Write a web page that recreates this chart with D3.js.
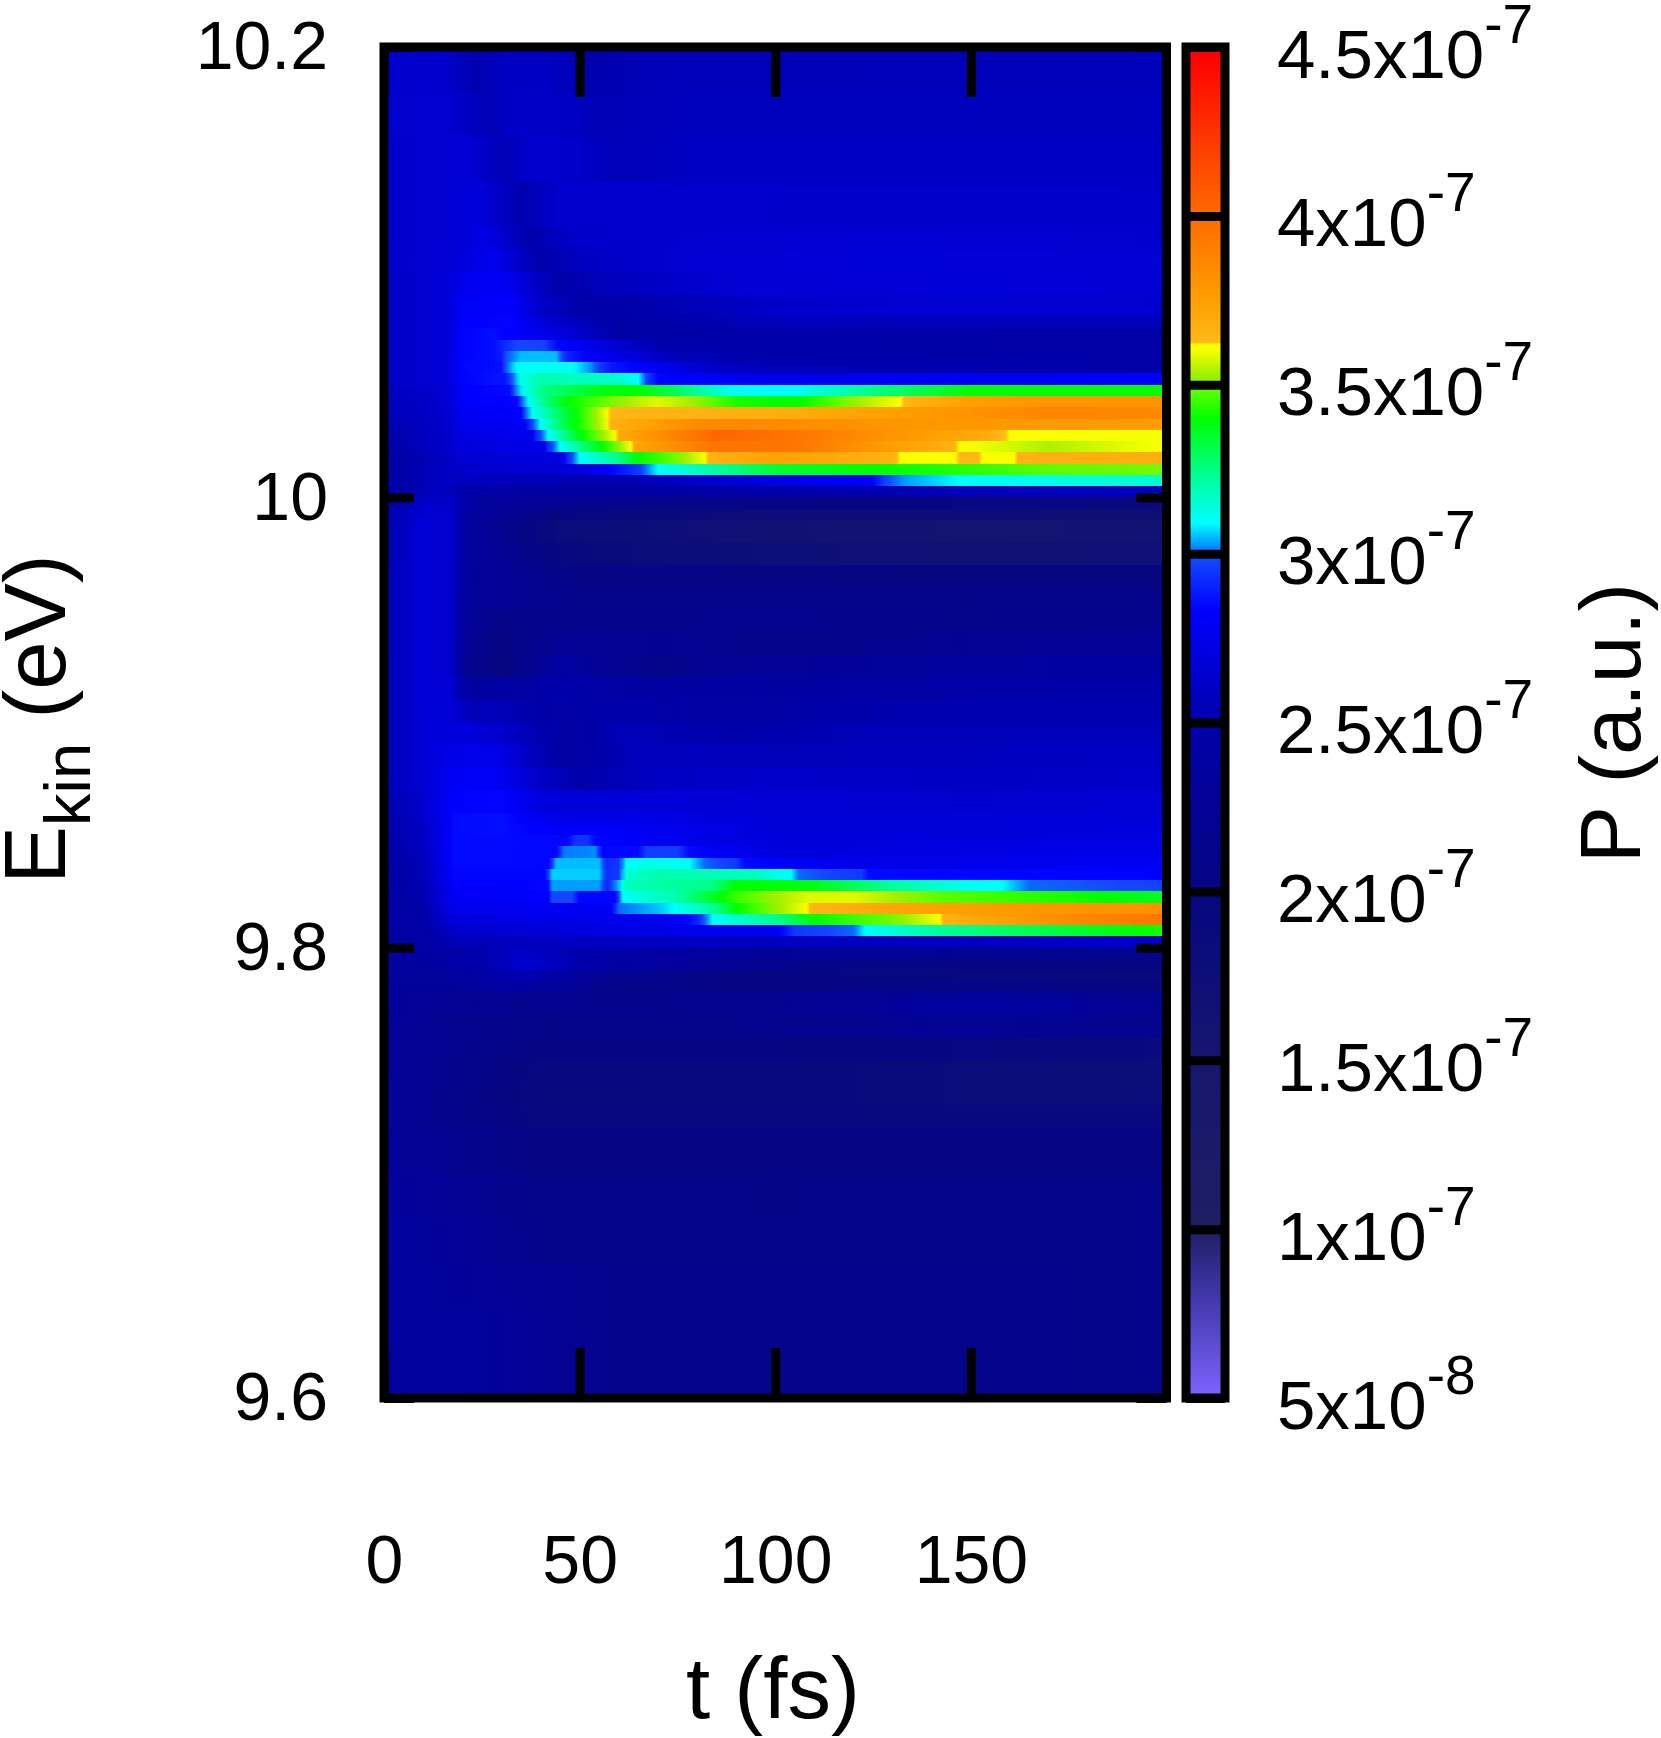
<!DOCTYPE html>
<html>
<head>
<meta charset="utf-8">
<title>P(t, Ekin)</title>
<script src="https://cdn.jsdelivr.net/npm/d3@7"></script>
<style>
  html, body { margin: 0; padding: 0; background: #fff; }
  svg { display: block; }
  text { font-family: "Liberation Sans", Arial, sans-serif; fill: #000; white-space: pre; }
</style>
</head>
<body>
<svg id="chart" width="1661" height="1738"></svg>
<script>
// axis ticks
const tTicks = [0, 50, 100, 150];
const energyTicks = [9.6, 9.8, 10, 10.2];
const pTicks = [0.5, 1, 1.5, 2, 2.5, 3, 3.5, 4, 4.5];
const pTickMantissa = ['5', '1', '1.5', '2', '2.5', '3', '3.5', '4', '4.5'];
const pTickExponent = ['-8', '-7', '-7', '-7', '-7', '-7', '-7', '-7', '-7'];

// colour palette, P in units of 1e-7
const paletteValues = [0.5, 0.8, 1, 1.5, 2, 2.5, 2.83, 2.98, 3.02, 3.09, 3.23, 3.4, 3.48, 3.53, 3.6, 3.62, 3.625, 3.75, 3.98, 4.48, 4.5];
const paletteColors = ['#7d64ff', '#4137aa', '#1e1e64', '#16166e', '#060682', '#0000aa', '#0000ff', '#1446ff', '#008cff', '#00ffff', '#00ff96', '#00ff00', '#5aff00', '#a0f000', '#f5ff00', '#ffff00', '#ffb919', '#ffa000', '#ff6e00', '#ff0000', '#ff0000'];

// lower energy edge of each row, top of the plot first
const rowEnergy = [
  10.18, 10.16, 10.14, 10.12, 10.11, 10.10, 10.09, 10.08, 10.075, 10.07,
  10.065, 10.06, 10.055, 10.05, 10.045, 10.04, 10.035, 10.03, 10.025, 10.02, 10.015, 10.01, 10.005, 10.0,
  9.995, 9.99, 9.98, 9.97, 9.96, 9.95, 9.94, 9.93, 9.92, 9.91, 9.90, 9.89, 9.88, 9.87, 9.86, 9.855, 9.85,
  9.845, 9.84, 9.835, 9.83, 9.825, 9.82, 9.815, 9.81, 9.805, 9.80,
  9.795, 9.79, 9.785, 9.78, 9.77, 9.76, 9.75, 9.74, 9.73, 9.72, 9.70, 9.68, 9.66, 9.64, 9.62, 9.60
];

// readings along each row as t, P pairs (fs, 1e-7), same order as rowEnergy
const rowReadings = [
  [0,2.64, 15,2.64, 23,2.52, 32,2.6, 42,2.6, 52,2.52, 75,2.56, 110,2.55, 150,2.56, 200,2.56],
  [0,2.64, 16,2.65, 27,2.54, 34,2.62, 48,2.6, 55,2.54, 80,2.58, 120,2.58, 200,2.58],
  [0,2.62, 16,2.66, 22,2.66, 31,2.54, 38,2.64, 50,2.62, 60,2.55, 80,2.6, 130,2.6, 200,2.6],
  [0,2.62, 16,2.66, 24,2.7, 35,2.52, 45,2.64, 60,2.64, 100,2.63, 150,2.63, 200,2.62],
  [0,2.62, 16,2.66, 26,2.72, 38,2.5, 48,2.62, 70,2.64, 120,2.66, 200,2.64],
  [0,2.62, 16,2.67, 28,2.76, 40,2.5, 52,2.6, 80,2.66, 130,2.68, 200,2.66],
  [0,2.6, 16,2.68, 22,2.78, 30,2.8, 44,2.5, 60,2.58, 90,2.66, 150,2.68, 200,2.66],
  [0,2.6, 16,2.68, 20,2.8, 32,2.82, 40,2.62, 52,2.48, 70,2.52, 100,2.62, 150,2.66, 200,2.64],
  [0,2.6, 16,2.68, 20,2.82, 32,2.84, 45,2.62, 60,2.46, 90,2.54, 130,2.56, 200,2.54],
  [0,2.6, 16,2.68, 20,2.83, 28,2.86, 45,2.7, 62,2.46, 100,2.48, 150,2.46, 200,2.48],
  // upper band
  [0,2.6, 16,2.68, 20,2.83, 28,2.86, 31,2.92, 34,2.98, 41,2.97, 44,2.85, 55,2.72, 70,2.52, 100,2.48, 200,2.44],
  [0,2.6, 16,2.68, 20,2.83, 28,2.86, 30,2.88, 31,2.98, 35,3.05, 44,3.05, 47,2.9, 55,2.78, 75,2.56, 100,2.5, 200,2.45],
  [0,2.6, 16,2.68, 20,2.84, 30,2.86, 31,2.98, 34,3.1, 48,3.1, 53,3.02, 58,2.88, 70,2.78, 85,2.6, 100,2.55, 200,2.48],
  [0,2.6, 16,2.68, 20,2.83, 31,2.88, 33,3.0, 35,3.12, 40,3.2, 60,3.16, 65,3.09, 67.5,2.95, 70,2.84, 100,2.75, 200,2.82],
  [0,2.58, 16,2.66, 20,2.82, 32,2.85, 33.5,3.0, 36,3.12, 40,3.24, 55,3.38, 65,3.4, 75,3.3, 88,3.12, 96,3.09, 105,3.09, 110,3.14, 125,3.25, 145,3.36, 150,3.4, 200,3.4],
  [0,2.55, 16,2.65, 20,2.8, 34,2.84, 35,2.98, 37,3.1, 42,3.28, 47,3.4, 60,3.52, 70,3.58, 80,3.52, 90,3.42, 100,3.4, 107,3.4, 120,3.52, 131,3.6, 133,3.64, 150,3.75, 170,3.8, 200,3.8],
  [0,2.55, 16,2.64, 20,2.78, 35,2.82, 36,2.98, 38,3.1, 45,3.3, 50,3.42, 57,3.6, 58,3.64, 100,3.68, 130,3.75, 170,3.88, 200,3.86],
  [0,2.52, 16,2.63, 20,2.75, 36,2.8, 37.5,2.95, 40,3.09, 47,3.35, 57,3.59, 58,3.66, 80,3.85, 100,3.85, 130,3.8, 200,3.76],
  [0,2.5, 16,2.62, 20,2.72, 38,2.76, 39,2.92, 42,3.09, 50,3.38, 59,3.6, 60,3.7, 85,4.02, 105,3.95, 130,3.8, 155,3.68, 160,3.61, 200,3.6],
  [0,2.48, 16,2.62, 20,2.7, 41,2.74, 42,2.92, 45,3.09, 55,3.38, 63,3.6, 64,3.72, 85,3.95, 105,3.95, 130,3.75, 146,3.66, 147,3.61, 170,3.54, 200,3.61],
  [0,2.45, 16,2.6, 20,2.66, 45,2.7, 47,2.92, 50,3.09, 60,3.25, 65,3.4, 75,3.5, 82,3.6, 83,3.66, 100,3.74, 130,3.66, 132,3.61, 146,3.61, 148,3.64, 151,3.64, 153,3.61, 161,3.61, 162,3.66, 200,3.68],
  [0,2.45, 16,2.6, 20,2.62, 50,2.68, 57,2.82, 65,2.95, 70,3.09, 85,3.22, 100,3.34, 125,3.4, 145,3.43, 170,3.48, 200,3.5],
  [0,2.45, 16,2.6, 20,2.58, 60,2.52, 100,2.72, 125,2.83, 128,2.97, 133,3.03, 147,3.09, 200,3.16],
  [0,2.45, 14,2.6, 20,2.5, 40,2.38, 80,2.42, 110,2.52, 200,2.58],
  // between the bands
  [0,2.45, 10,2.62, 17,2.62, 24,2.35, 60,2.12, 120,2.0, 200,1.95],
  [0,2.5, 10,2.66, 17,2.64, 22,2.38, 45,2.0, 100,1.8, 200,1.75],
  [0,2.5, 10,2.68, 17,2.64, 22,2.35, 45,1.85, 100,1.65, 150,1.6, 200,1.62],
  [0,2.5, 10,2.68, 17,2.64, 22,2.35, 50,1.9, 100,1.75, 150,1.7, 200,1.72],
  [0,2.52, 10,2.68, 17,2.64, 22,2.32, 50,2.05, 100,2.05, 150,2.0, 200,2.0],
  [0,2.52, 10,2.68, 17,2.64, 22,2.3, 50,2.12, 100,2.12, 150,2.08, 200,2.12],
  [0,2.52, 10,2.68, 17,2.64, 22,2.28, 30,2.1, 50,2.15, 100,2.18, 150,2.12, 200,2.16],
  [0,2.52, 10,2.68, 17,2.64, 22,2.2, 30,2.02, 45,2.25, 80,2.2, 100,2.08, 150,2.22, 200,2.26],
  [0,2.55, 10,2.68, 17,2.64, 22,2.15, 30,1.98, 45,2.4, 60,2.2, 70,2.1, 90,2.25, 100,2.28, 150,2.36, 200,2.4],
  [0,2.55, 10,2.68, 17,2.66, 22,2.4, 30,2.4, 45,2.5, 60,2.42, 100,2.38, 130,2.45, 200,2.48],
  [0,2.55, 10,2.68, 17,2.68, 22,2.56, 32,2.55, 45,2.45, 60,2.5, 90,2.42, 130,2.52, 200,2.52],
  [0,2.55, 10,2.68, 18,2.7, 22,2.7, 35,2.58, 48,2.42, 60,2.56, 90,2.5, 130,2.56, 200,2.56],
  [0,2.55, 10,2.68, 18,2.74, 28,2.76, 38,2.58, 48,2.42, 65,2.58, 100,2.56, 150,2.58, 200,2.6],
  [0,2.55, 10,2.66, 18,2.8, 28,2.8, 40,2.62, 50,2.5, 70,2.6, 100,2.62, 150,2.6, 200,2.62],
  [0,2.52, 10,2.64, 18,2.83, 30,2.84, 42,2.68, 60,2.68, 100,2.66, 150,2.64, 200,2.66],
  [0,2.5, 10,2.62, 18,2.85, 30,2.86, 45,2.74, 60,2.74, 100,2.68, 150,2.68, 200,2.68],
  [0,2.5, 10,2.6, 18,2.85, 30,2.86, 45,2.8, 55,2.8, 80,2.74, 100,2.68, 150,2.68, 200,2.7],
  // lower band
  [0,2.48, 10,2.6, 18,2.85, 30,2.85, 47,2.84, 49,2.94, 52,2.94, 54,2.84, 70,2.78, 100,2.68, 200,2.72],
  [0,2.48, 10,2.58, 18,2.85, 30,2.85, 44,2.84, 46,3.01, 54,3.02, 56,2.84, 65,2.85, 67,2.96, 75,2.96, 78,2.85, 100,2.7, 200,2.74],
  [0,2.46, 10,2.56, 18,2.85, 30,2.85, 42,2.84, 44,3.05, 55,3.05, 57,2.92, 60,2.95, 62,3.09, 68,3.12, 78,3.09, 82,3.0, 90,2.95, 92,2.85, 120,2.74, 200,2.78],
  [0,2.45, 10,2.55, 18,2.84, 30,2.84, 41,2.84, 43,3.06, 55,3.06, 57,2.93, 60,2.95, 62,3.15, 70,3.2, 95,3.18, 104,3.09, 106,3.0, 122,2.95, 124,2.85, 200,2.83],
  [0,2.44, 10,2.54, 18,2.82, 30,2.82, 42,2.84, 43,3.03, 55,3.03, 57,2.92, 60,3.05, 62,3.18, 84,3.25, 90,3.4, 110,3.38, 130,3.22, 150,3.1, 158,3.09, 165,3.0, 200,2.97],
  [0,2.42, 10,2.52, 18,2.8, 30,2.8, 42,2.82, 43,2.98, 48,2.98, 50,2.84, 59,2.84, 61,3.1, 75,3.2, 84,3.36, 90,3.45, 100,3.53, 109,3.58, 120,3.58, 142,3.48, 175,3.42, 200,3.36],
  [0,2.42, 10,2.5, 18,2.76, 58,2.8, 60,3.0, 71,3.06, 75,3.1, 84,3.22, 90,3.4, 100,3.52, 108,3.6, 109,3.64, 130,3.72, 170,3.8, 200,3.82],
  [0,2.4, 10,2.48, 18,2.7, 75,2.78, 80,2.9, 84,3.09, 101,3.25, 110,3.4, 130,3.5, 142,3.6, 143,3.66, 175,3.85, 200,3.95],
  [0,2.38, 10,2.46, 18,2.62, 60,2.72, 100,2.78, 105,2.95, 120,3.0, 123,3.09, 142,3.22, 175,3.34, 200,3.42],
  [0,2.36, 10,2.44, 18,2.55, 60,2.6, 100,2.58, 150,2.58, 200,2.62],
  // below the lower band
  [0,2.35, 18,2.45, 35,2.62, 60,2.45, 100,2.3, 150,2.2, 200,2.15],
  [0,2.35, 15,2.4, 37,2.65, 60,2.4, 100,2.15, 150,2.05, 200,2.0],
  [0,2.32, 15,2.35, 37,2.55, 60,2.2, 100,2.0, 150,1.95, 200,1.9],
  [0,2.32, 15,2.3, 37,2.4, 60,2.1, 100,2.02, 150,2.1, 200,1.98],
  [0,2.32, 15,2.25, 40,2.15, 60,2.15, 100,2.2, 130,2.3, 150,2.36, 170,2.34, 200,2.2],
  [0,2.3, 15,2.2, 40,2.1, 100,2.15, 130,2.2, 150,2.24, 200,2.15],
  [0,2.3, 15,2.2, 40,2.02, 100,2.02, 150,1.98, 200,1.88],
  [0,2.3, 15,2.18, 40,1.95, 100,1.92, 150,1.85, 200,1.78],
  [0,2.3, 15,2.15, 40,1.92, 100,1.92, 150,1.85, 200,1.82],
  [0,2.3, 15,2.15, 40,1.95, 100,1.95, 150,1.92, 200,1.92],
  [0,2.32, 15,2.2, 40,2.02, 100,2.02, 200,2.02],
  [0,2.35, 15,2.25, 40,2.1, 100,2.08, 200,2.1],
  [0,2.38, 15,2.3, 40,2.12, 100,2.12, 200,2.12],
  [0,2.38, 20,2.3, 60,2.15, 200,2.12],
  [0,2.38, 20,2.35, 60,2.15, 200,2.12],
  [0,2.38, 20,2.35, 60,2.15, 200,2.12]
];

const svg = d3.select('#chart');
const defs = svg.append('defs');

// Layout
const plot = { left: 384, right: 1166.5, top: 47, bottom: 1398 };
const bar = { left: 1186, right: 1225 };
const frameWidth = 9;

const x = d3.scaleLinear().domain([0, 200]).range([plot.left, plot.right]);
const y = d3.scaleLinear().domain([9.6, 10.2]).range([plot.bottom, plot.top]);
const barY = d3.scaleLinear().domain([0.5, 4.5]).range([plot.bottom, plot.top]);
const color = d3.scaleLinear().domain(paletteValues).range(paletteColors).clamp(true);

// Heat map: one rect per energy row, shaded along t by a gradient
const heat = svg.append('g').attr('shape-rendering', 'crispEdges');

rowReadings.forEach((row, i) => {
  const ts = row.filter((d, j) => j % 2 === 0);
  const ps = row.filter((d, j) => j % 2 === 1);
  const value = d3.scaleLinear().domain(ts).range(ps);
  const stops = Array.from(new Set([...d3.range(0, 201), ...ts])).sort(d3.ascending);

  defs.append('linearGradient')
    .attr('id', `row${i}`)
    .selectAll('stop')
    .data(stops)
    .join('stop')
    .attr('offset', t => t / 200)
    .attr('stop-color', t => color(value(t)));

  const upper = i === 0 ? y.domain()[1] : rowEnergy[i - 1];
  heat.append('rect')
    .attr('x', x(0))
    .attr('width', x(200) - x(0))
    .attr('y', y(upper))
    .attr('height', y(rowEnergy[i]) - y(upper))
    .attr('fill', `url(#row${i})`);
});

// Colour bar
defs.append('linearGradient')
  .attr('id', 'palette')
  .attr('x1', 0).attr('x2', 0).attr('y1', 1).attr('y2', 0)
  .selectAll('stop')
  .data(paletteValues)
  .join('stop')
  .attr('offset', d => (d - 0.5) / 4)
  .attr('stop-color', d => color(d));

svg.append('rect')
  .attr('x', bar.left)
  .attr('y', plot.top)
  .attr('width', bar.right - bar.left)
  .attr('height', plot.bottom - plot.top)
  .attr('fill', 'url(#palette)');

// Axes
function styleAxis(g, fontSize = 68) {
  g.select('.domain').remove();
  g.selectAll('.tick line').attr('stroke', '#000').attr('stroke-width', frameWidth);
  g.selectAll('.tick text').attr('font-size', fontSize).attr('fill', '#000').attr('font-family', '"Liberation Sans", Arial, sans-serif');
}

svg.append('g')
  .attr('transform', `translate(0,${plot.bottom})`)
  .call(d3.axisBottom(x).tickValues(tTicks).tickFormat(d3.format('d')).tickSizeInner(-50).tickSizeOuter(0).tickPadding(137))
  .call(styleAxis);

svg.append('g')
  .attr('transform', `translate(0,${plot.top})`)
  .call(d3.axisTop(x).tickValues(tTicks).tickFormat('').tickSizeInner(-50).tickSizeOuter(0))
  .call(styleAxis);

svg.append('g')
  .attr('transform', `translate(${plot.left},0)`)
  .call(d3.axisLeft(y).tickValues(energyTicks).tickFormat(d => String(d)).tickSizeInner(-30).tickSizeOuter(0).tickPadding(56))
  .call(styleAxis);

svg.append('g')
  .attr('transform', `translate(${plot.right},0)`)
  .call(d3.axisRight(y).tickValues(energyTicks).tickFormat('').tickSizeInner(-30).tickSizeOuter(0))
  .call(styleAxis);

const barAxis = svg.append('g')
  .attr('transform', `translate(${bar.right},0)`)
  .call(d3.axisRight(barY).tickValues(pTicks).tickFormat('').tickSizeInner(bar.left - bar.right).tickSizeOuter(0).tickPadding(52))
  .call(styleAxis, 69);

// Colour bar labels carry a superscript exponent
barAxis.selectAll('.tick text').each(function (d, i) {
  const label = d3.select(this).attr('dy', null).attr('y', 30);
  label.append('tspan').text(`${pTickMantissa[i]}x10`);
  label.append('tspan').attr('font-size', 55).attr('dy', -35).text(pTickExponent[i]);
});

// Frames
[[plot.left, plot.right], [bar.left, bar.right]].forEach(([l, r]) => {
  svg.append('rect')
    .attr('x', l)
    .attr('y', plot.top)
    .attr('width', r - l)
    .attr('height', plot.bottom - plot.top)
    .attr('fill', 'none')
    .attr('stroke', '#000')
    .attr('stroke-width', frameWidth);
});

// Axis titles
svg.append('text')
  .attr('x', 773)
  .attr('y', 1718)
  .attr('text-anchor', 'middle')
  .attr('font-size', 87)
  .text('t (fs)');

const yTitle = svg.append('text')
  .attr('transform', 'translate(65,884) rotate(-90)')
  .attr('font-size', 87);
yTitle.append('tspan').text('E');
yTitle.append('tspan').attr('font-size', 65).attr('dy', 25).text('kin');
yTitle.append('tspan').attr('dy', -25).text(' (eV)');

svg.append('text')
  .attr('transform', 'translate(1640,723) rotate(-90)')
  .attr('text-anchor', 'middle')
  .attr('font-size', 86)
  .text('P (a.u.)');
</script>
</body>
</html>
